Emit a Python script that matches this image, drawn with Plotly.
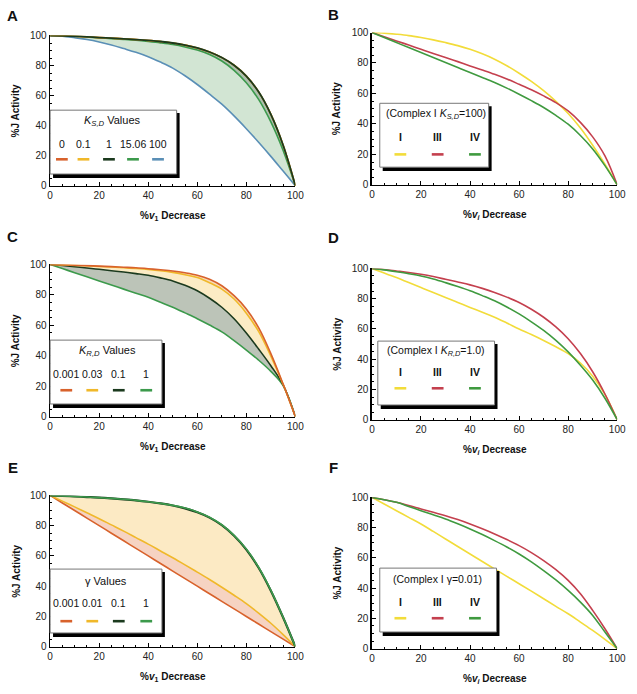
import plotly.graph_objects as go

W, H = 637, 694
FONT = "Liberation Sans, Arial, sans-serif"

# ---------------- data ----------------
x_pct = [0, 5, 10, 15, 20, 25, 30, 35, 40, 45, 50, 55, 60, 65, 70, 75, 80, 85, 90, 95, 100]

# Panel A : K_S,D values
a_ks_0 = [100, 99.8, 99.5, 99.1, 98.6, 98.2, 97.8, 97.3, 96.7, 96.0, 95.0, 93.6, 91.7, 89.0, 85.3, 80.2, 73.0, 62.5, 47.5, 27.0, 0]
a_ks_01 = [100, 99.8, 99.5, 99.1, 98.6, 98.2, 97.8, 97.3, 96.7, 96.0, 95.0, 93.6, 91.7, 89.0, 85.3, 80.2, 73.0, 62.5, 47.5, 27.0, 0]
a_ks_1 = [100, 99.8, 99.5, 99.1, 98.6, 98.2, 97.8, 97.3, 96.7, 96.0, 95.0, 93.6, 91.7, 89.0, 85.3, 80.2, 73.0, 62.5, 47.5, 27.0, 0]
a_ks_1506 = [100, 99.8, 99.5, 99.0, 98.4, 97.9, 97.4, 96.8, 96.0, 95.1, 94.0, 92.4, 90.3, 87.3, 83.0, 76.8, 68.5, 57.5, 42.5, 23.5, 0]
a_ks_100 = [100, 99.6, 98.5, 97.3, 95.7, 93.7, 91.3, 88.8, 85.9, 82.3, 78.3, 73.2, 67.4, 61.0, 54.3, 46.5, 38.0, 29.0, 19.6, 9.8, 0]
a_labels = ["0", "0.1", "1", "15.06", "100"]

# Panel B : complex I K_S,D = 100
b_I = [100, 99.6, 98.9, 98.0, 96.7, 95.2, 93.4, 91.4, 89.0, 86.0, 82.5, 78.2, 73.3, 67.9, 61.8, 54.8, 46.8, 37.3, 26.0, 13.5, 0]
b_III = [100, 97.2, 94.5, 91.8, 89.0, 86.3, 83.6, 80.9, 78.1, 75.4, 72.6, 69.5, 66.0, 62.4, 58.4, 54.0, 48.5, 41.0, 31.5, 19.0, 0]
b_IV = [100, 96.7, 93.4, 90.1, 86.9, 83.6, 80.3, 77.0, 73.7, 70.5, 67.2, 63.5, 59.5, 55.3, 50.8, 45.6, 39.8, 32.4, 23.6, 12.6, 0]

# Panel C : K_R,D values
c_kr_0001 = [100, 99.8, 99.5, 99.2, 98.9, 98.6, 98.2, 97.8, 97.2, 96.5, 95.7, 94.5, 92.9, 90.3, 86.0, 79.5, 70.8, 58.5, 41.5, 21.5, 0]
c_kr_003 = [100, 99.7, 99.4, 99.1, 98.7, 98.3, 97.8, 97.3, 96.7, 95.9, 94.8, 93.3, 91.4, 88.0, 83.8, 77.3, 68.0, 56.0, 39.8, 21.3, 0]
c_kr_01 = [100, 99.3, 98.5, 97.7, 96.8, 95.9, 95.0, 94.0, 92.9, 91.2, 89.2, 86.3, 82.7, 77.8, 71.9, 64.4, 55.0, 44.5, 33.5, 21.0, 0]
c_kr_1 = [100, 97.3, 94.6, 91.9, 89.2, 86.5, 83.8, 81.1, 78.4, 75.2, 71.9, 68.2, 64.4, 60.2, 55.7, 50.0, 43.8, 37.2, 29.8, 20.5, 0]
c_labels = ["0.001", "0.03", "0.1", "1"]

# Panel D : complex I K_R,D = 1.0
d_I = [100, 97.0, 93.9, 90.6, 87.3, 84.0, 80.8, 77.5, 74.2, 71.0, 67.7, 63.9, 60.0, 56.3, 52.4, 48.2, 43.7, 37.5, 28.8, 16.8, 0]
d_III = [100, 99.3, 98.3, 97.3, 96.1, 94.6, 92.8, 91.0, 89.1, 86.8, 84.1, 81.0, 77.5, 73.0, 67.7, 61.3, 53.5, 43.7, 31.7, 17.0, 0]
d_IV = [100, 99.0, 97.8, 96.5, 95.0, 93.0, 90.6, 88.0, 85.2, 82.0, 78.6, 74.5, 69.9, 64.7, 59.0, 52.4, 44.8, 36.0, 26.2, 14.2, 0]

# Panel E : gamma values
e_g_0001 = [100, 95, 90, 85, 80, 75, 70, 65, 60, 55, 50, 45, 40, 35, 30, 25, 20, 15, 10, 5, 0]
e_g_001 = [100, 96.2, 92.4, 88.5, 84.6, 80.5, 76.4, 72.1, 67.8, 63.3, 58.8, 54.1, 49.3, 44.4, 39.3, 34.0, 28.5, 22.2, 15.5, 8.0, 0]
e_g_01 = [100, 99.7, 99.3, 98.9, 98.5, 98.0, 97.4, 96.7, 95.8, 94.7, 93.3, 91.4, 88.8, 85.3, 80.3, 73.3, 64.2, 52.2, 37.0, 19.3, 0]
e_g_1 = [100, 99.7, 99.3, 98.9, 98.5, 98.0, 97.4, 96.7, 95.8, 94.7, 93.4, 91.6, 89.1, 85.6, 80.6, 73.6, 64.5, 52.5, 37.3, 19.5, 0]
e_labels = ["0.001", "0.01", "0.1", "1"]

# Panel F : complex I gamma = 0.01
f_I = [100, 95.6, 91.2, 86.8, 82.4, 77.5, 72.5, 67.5, 62.6, 57.6, 52.7, 47.8, 42.9, 38.0, 33.0, 28.0, 23.1, 17.6, 12.1, 6.2, 0]
f_III = [100, 98.4, 96.7, 94.6, 92.3, 90.1, 87.9, 85.3, 82.4, 79.2, 75.8, 72.1, 68.1, 63.5, 58.2, 52.2, 45.1, 36.3, 25.3, 13.2, 0]
f_IV = [100, 98.4, 96.7, 94.0, 91.2, 88.5, 85.7, 82.5, 79.1, 75.4, 71.4, 67.2, 62.6, 57.4, 51.6, 45.4, 38.5, 30.8, 22.0, 11.0, 0]

complex_labels = ["I", "III", "IV"]

# ---------------- styles ----------------
ORANGE = "#d8622c"
GOLD = "#f0b82a"
DARK = "#1b3a1e"
GREEN = "#3c9a4c"
BLUE = "#5a8fb6"
YELLOW = "#f2dc3a"
RED = "#c4404e"
GREEN2 = "#3f9a3f"


def px(x):
    return x / W


def py(y):
    return 1 - y / H


# plot boxes in pixels (left, right, top, bottom)
boxes = {
    "A": (48, 298, 30, 183),
    "B": (376, 626, 27, 182),
    "C": (48, 298, 263, 418),
    "D": (376, 626, 267, 421),
    "E": (48, 298, 498, 652),
    "F": (376, 626, 500, 654),
}

fig = go.Figure()
layout = dict(
    width=W, height=H, margin=dict(l=0, r=0, t=0, b=0),
    paper_bgcolor="white", plot_bgcolor="white", showlegend=False,
    font=dict(family=FONT, color="#111"), hovermode=False,
)
annotations = []
shapes = []

axis_common = dict(
    range=[0, 100], showline=True, linecolor="black", linewidth=1.5,
    ticks="inside", ticklen=4, tickwidth=1, tickcolor="black",
    tick0=0, dtick=20, showgrid=False, zeroline=False, ticklabeloverflow="allow",
    minor=dict(ticks="inside", ticklen=2, tickwidth=1, tickcolor="black", dtick=5, showgrid=False),
    tickfont=dict(family=FONT, size=10, color="#222"),
)

for i, key in enumerate(["A", "B", "C", "D", "E", "F"]):
    l, r, t, b = boxes[key]
    n = "" if i == 0 else str(i + 1)
    layout["xaxis" + n] = dict(axis_common, domain=[px(l), px(r)], anchor="y" + n)
    layout["yaxis" + n] = dict(axis_common, domain=[py(b), py(t)], anchor="x" + n)


def add(idx, y, color, fill=None, fillcolor=None, width=1.6):
    n = "" if idx == 0 else str(idx + 1)
    fig.add_trace(go.Scatter(
        x=x_pct, y=y, mode="lines",
        line=dict(color=color, width=width, shape="spline", smoothing=1.0),
        fill=fill, fillcolor=fillcolor,
        xaxis="x" + n, yaxis="y" + n, hoverinfo="skip",
    ))


# Panel A (bottom to top for fills)
add(0, a_ks_100, BLUE)
add(0, a_ks_1506, GREEN, "tonexty", "rgba(80,155,85,0.26)")
add(0, a_ks_0, ORANGE, "tonexty", "rgba(40,90,45,0.38)")
add(0, a_ks_01, GOLD)
add(0, a_ks_1, DARK, width=1.8)

# Panel B
add(1, b_I, YELLOW)
add(1, b_III, RED)
add(1, b_IV, GREEN2)

# Panel C
add(2, c_kr_1, GREEN)
add(2, c_kr_01, DARK, "tonexty", "rgba(95,115,85,0.42)")
add(2, c_kr_003, GOLD, "tonexty", "rgba(245,200,90,0.35)")
add(2, c_kr_0001, ORANGE, "tonexty", "rgba(235,150,60,0.35)")

# Panel D
add(3, d_I, YELLOW)
add(3, d_III, RED)
add(3, d_IV, GREEN2)

# Panel E
add(4, e_g_0001, ORANGE)
add(4, e_g_001, GOLD, "tonexty", "rgba(228,120,70,0.33)")
add(4, e_g_01, DARK, "tonexty", "rgba(247,200,100,0.38)", width=2.2)
add(4, e_g_1, GREEN, "tonexty", "rgba(40,90,45,0.3)")

# Panel F
add(5, f_I, YELLOW)
add(5, f_III, RED)
add(5, f_IV, GREEN2)


def text(x, y, s, size=11, bold=False, angle=0, xanchor="center"):
    annotations.append(dict(
        x=px(x), y=py(y), xref="paper", yref="paper", text=("<b>%s</b>" % s) if bold else s,
        showarrow=False, xanchor=xanchor, yanchor="middle", textangle=angle,
        font=dict(family=FONT, size=size, color="#111"),
    ))


# panel letters
for key, (x, y) in {"A": (10, 10), "B": (337, 9), "C": (10, 235), "D": (337, 236),
                    "E": (10, 470), "F": (337, 470)}.items():
    text(x, y, key, size=15, bold=True)

# axis titles
for key, (l, r, t, b) in boxes.items():
    left_col = key in "ACE"
    ytx = 13 if left_col else 340
    text(ytx, (t + b) / 2, "%J Activity", size=10, bold=True, angle=-90)
    xt = "%<i>v</i><sub>1</sub> Decrease" if left_col else "%<i>v<sub>i</sub></i> Decrease"
    text((l + r) / 2, b + 31, xt, size=10, bold=True)


def legend_box(l, r, t, b):
    shapes.append(dict(type="rect", xref="paper", yref="paper",
                       x0=px(l + 3), x1=px(r + 3), y0=py(b + 4), y1=py(t + 3),
                       fillcolor="black", line=dict(width=0), layer="above"))
    shapes.append(dict(type="rect", xref="paper", yref="paper",
                       x0=px(l), x1=px(r), y0=py(b), y1=py(t),
                       fillcolor="white", line=dict(color="#777", width=1), layer="above"))


def swatch(x, y, color):
    shapes.append(dict(type="line", xref="paper", yref="paper",
                       x0=px(x - 6), x1=px(x + 6), y0=py(y), y1=py(y),
                       line=dict(color=color, width=2.6), layer="above"))


LS = 10.5  # legend label size
# Legend A
legend_box(48, 177, 106, 171)
text(112, 117, "<i>K</i><sub><i>S,D</i></sub> Values", size=11)
for xx, lab, col in zip([60, 82, 108, 132.5, 158], a_labels, [ORANGE, GOLD, DARK, GREEN, BLUE]):
    text(xx, 140, lab, size=LS)
    swatch(xx, 156, col)

# Legend B
legend_box(384, 495, 99, 164)
text(441, 110, "(Complex I <i>K</i><sub><i>S,D</i></sub>=100)", size=10.5)
for xx, lab, col in zip([405, 443, 481], complex_labels, [YELLOW, RED, GREEN2]):
    text(xx, 133, lab, size=LS, bold=True)
    swatch(xx, 151, col)

# Legend C
legend_box(48, 162, 340, 405)
text(107, 351, "<i>K</i><sub><i>R,D</i></sub> Values", size=11)
for xx, lab, col in zip([64.5, 91, 118, 146], c_labels, [ORANGE, GOLD, DARK, GREEN]):
    text(xx, 374, lab, size=LS)
    swatch(xx, 391, col)

# Legend D
legend_box(382, 501, 341, 406)
text(441, 351, "(Complex I <i>K</i><sub><i>R,D</i></sub>=1.0)", size=10.5)
for xx, lab, col in zip([405, 443, 481], complex_labels, [YELLOW, RED, GREEN2]):
    text(xx, 372, lab, size=LS, bold=True)
    swatch(xx, 389, col)

# Legend E
legend_box(48, 162, 573, 638)
text(105, 585, "γ Values", size=11)
for xx, lab, col in zip([64.5, 91, 118, 146], e_labels, [ORANGE, GOLD, DARK, GREEN]):
    text(xx, 608, lab, size=LS)
    swatch(xx, 626, col)

# Legend F
legend_box(384, 503, 572, 637)
text(443, 583, "(Complex I γ=0.01)", size=10.5)
for xx, lab, col in zip([405, 443, 481], complex_labels, [YELLOW, RED, GREEN2]):
    text(xx, 606, lab, size=LS, bold=True)
    swatch(xx, 623, col)

layout["annotations"] = annotations
layout["shapes"] = shapes
fig.update_layout(**layout)
fig.write_html(
    "out.html",
    config={"displayModeBar": False, "staticPlot": True},
    post_script="document.body.style.margin='0';document.body.style.overflow='hidden';",
)
